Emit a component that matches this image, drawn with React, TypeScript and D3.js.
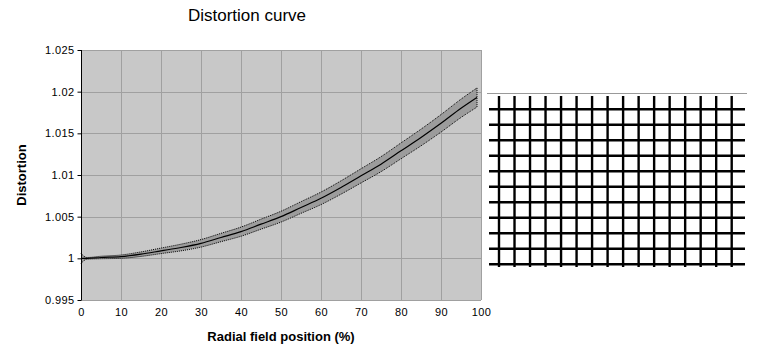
import { useEffect, useRef } from 'react';
import * as d3 from 'd3';

const positions = [0, 1.5, 5, 10, 15, 20, 25, 30, 35, 40, 45, 50, 55, 60, 65, 70, 75, 80, 85, 90, 95, 99];
const distortion = [1.0, 1.0, 1.0001, 1.0002, 1.0005, 1.0009, 1.0013, 1.0018, 1.0025, 1.0032, 1.0041, 1.005, 1.0061, 1.0072, 1.0085, 1.0099, 1.0113, 1.0129, 1.0145, 1.0162, 1.018, 1.0193];
// half width of the grey tolerance band at each position
const tolerance = [0.0006, 0.0001, 0.00015, 0.0002, 0.00027, 0.00033, 0.0004, 0.00045, 0.0005, 0.00055, 0.0006, 0.00065, 0.0007, 0.00075, 0.0008, 0.00085, 0.0009, 0.00095, 0.001, 0.00105, 0.0011, 0.00115];

const xTicks = [0, 10, 20, 30, 40, 50, 60, 70, 80, 90, 100];
const yTicks = [0.995, 1, 1.005, 1.01, 1.015, 1.02, 1.025];

// distorted test grid on the right: column and row indices
const gridColumns = [0, 1, 2, 3, 4, 5, 6, 7, 8, 9, 10, 11, 12, 13, 14, 15];
const gridRows = [0, 1, 2, 3, 4, 5, 6, 7, 8, 9, 10];

const font = '"Liberation Sans", Arial, sans-serif';

const App = () => {
  const svgRef = useRef<SVGSVGElement>(null);

  useEffect(() => {
    const width = 763;
    const height = 353;
    const margin = { top: 50, right: 282, bottom: 53, left: 81 };

    const svg = d3.select(svgRef.current);
    svg.selectAll('*').remove();
    svg.attr('width', width).attr('height', height);

    const innerWidth = width - margin.left - margin.right;
    const innerHeight = height - margin.top - margin.bottom;

    const chart = svg.append('g')
      .attr('transform', `translate(${margin.left},${margin.top})`);

    const x = d3.scaleLinear().domain([0, 100]).range([0, innerWidth]);
    const y = d3.scaleLinear().domain([0.995, 1.025]).range([innerHeight, 0]);

    // plot background
    chart.append('rect')
      .attr('width', innerWidth)
      .attr('height', innerHeight)
      .attr('fill', '#c8c8c8');

    // gridlines
    chart.selectAll('.vgrid')
      .data(xTicks)
      .enter()
      .append('line')
      .attr('x1', d => x(d) + 0.5)
      .attr('x2', d => x(d) + 0.5)
      .attr('y1', 0)
      .attr('y2', innerHeight)
      .attr('stroke', '#a0a0a0');

    chart.selectAll('.hgrid')
      .data(yTicks)
      .enter()
      .append('line')
      .attr('x1', 0)
      .attr('x2', innerWidth)
      .attr('y1', d => Math.round(y(d)) + 0.5)
      .attr('y2', d => Math.round(y(d)) + 0.5)
      .attr('stroke', '#a0a0a0');

    const pts = positions.map((p, i) => ({ p, v: distortion[i], t: tolerance[i] }));

    // tolerance band
    chart.append('path')
      .datum(pts)
      .attr('fill', '#9c9c9c')
      .attr('d', d3.area<any>()
        .x(d => x(d.p))
        .y0(d => y(d.v - d.t))
        .y1(d => y(d.v + d.t))
        .curve(d3.curveMonotoneX));

    const edge = (sign: number) => d3.line<any>()
      .x(d => x(d.p))
      .y(d => y(d.v + sign * d.t))
      .curve(d3.curveMonotoneX);

    [1, -1].forEach(s => {
      chart.append('path')
        .datum(pts)
        .attr('fill', 'none')
        .attr('stroke', '#000')
        .attr('stroke-width', 1)
        .attr('stroke-dasharray', '1,1')
        .attr('d', edge(s));
    });

    // end cap of the band
    const last = pts[pts.length - 1];
    chart.append('line')
      .attr('x1', x(last.p))
      .attr('x2', x(last.p))
      .attr('y1', y(last.v + last.t))
      .attr('y2', y(last.v - last.t))
      .attr('stroke', '#000')
      .attr('stroke-dasharray', '1,1');

    // measured curve
    chart.append('path')
      .datum(pts)
      .attr('fill', 'none')
      .attr('stroke', '#000')
      .attr('stroke-width', 1.2)
      .attr('d', d3.line<any>().x(d => x(d.p)).y(d => y(d.v)).curve(d3.curveMonotoneX));

    // left axis
    const yAxis = chart.append('g')
      .attr('transform', 'translate(0.5,0)')
      .call(d3.axisLeft(y).tickValues(yTicks).tickSize(4).tickFormat(d => d3.format('')(d as number)));
    yAxis.select('.domain').attr('stroke', '#000').attr('d', `M0,0V${innerHeight}`);
    yAxis.selectAll('.tick line').attr('stroke', '#000');
    yAxis.selectAll('text')
      .attr('x', -7)
      .style('font-family', font)
      .style('font-size', '11px')
      .style('letter-spacing', '0.4px')
      .attr('fill', '#000');

    // bottom axis labels
    const xAxis = chart.append('g')
      .attr('transform', `translate(0,${innerHeight})`)
      .call(d3.axisBottom(x).tickValues(xTicks).tickSize(0).tickPadding(8));
    xAxis.select('.domain').remove();
    xAxis.selectAll('text')
      .style('font-family', font)
      .style('font-size', '11px')
      .style('letter-spacing', '0.4px')
      .attr('fill', '#000');

    // titles
    svg.append('text')
      .attr('x', 247)
      .attr('y', 21)
      .attr('text-anchor', 'middle')
      .style('font-family', font)
      .style('font-size', '17px')
      .text('Distortion curve');

    svg.append('text')
      .attr('x', margin.left + innerWidth / 2)
      .attr('y', 341)
      .attr('text-anchor', 'middle')
      .style('font-family', font)
      .style('font-size', '13px')
      .style('font-weight', 'bold')
      .text('Radial field position (%)');

    svg.append('text')
      .attr('transform', `translate(26,${margin.top + innerHeight / 2}) rotate(-90)`)
      .attr('text-anchor', 'middle')
      .style('font-family', font)
      .style('font-size', '13px')
      .style('font-weight', 'bold')
      .text('Distortion');

    // test grid picture
    const gx = d3.scaleLinear().domain([0, 15]).range([499, 731.7]);
    const gy = d3.scaleLinear().domain([0, 10]).range([109.3, 264.3]);
    const grid = svg.append('g');

    grid.append('line')
      .attr('x1', 487).attr('x2', 747)
      .attr('y1', 93.5).attr('y2', 93.5)
      .attr('stroke', '#999');

    grid.selectAll('.gcol')
      .data(gridColumns)
      .enter()
      .append('line')
      .attr('x1', d => gx(d))
      .attr('x2', d => gx(d))
      .attr('y1', 96)
      .attr('y2', 267)
      .attr('stroke', '#000')
      .attr('stroke-width', 2.4);

    grid.selectAll('.grow')
      .data(gridRows)
      .enter()
      .append('line')
      .attr('x1', 489)
      .attr('x2', 745)
      .attr('y1', d => gy(d))
      .attr('y2', d => gy(d))
      .attr('stroke', '#000')
      .attr('stroke-width', 2.4);
  }, []);

  return <svg ref={svgRef} style={{ position: 'absolute', left: 0, top: 0 }}></svg>;
};

export default App;
